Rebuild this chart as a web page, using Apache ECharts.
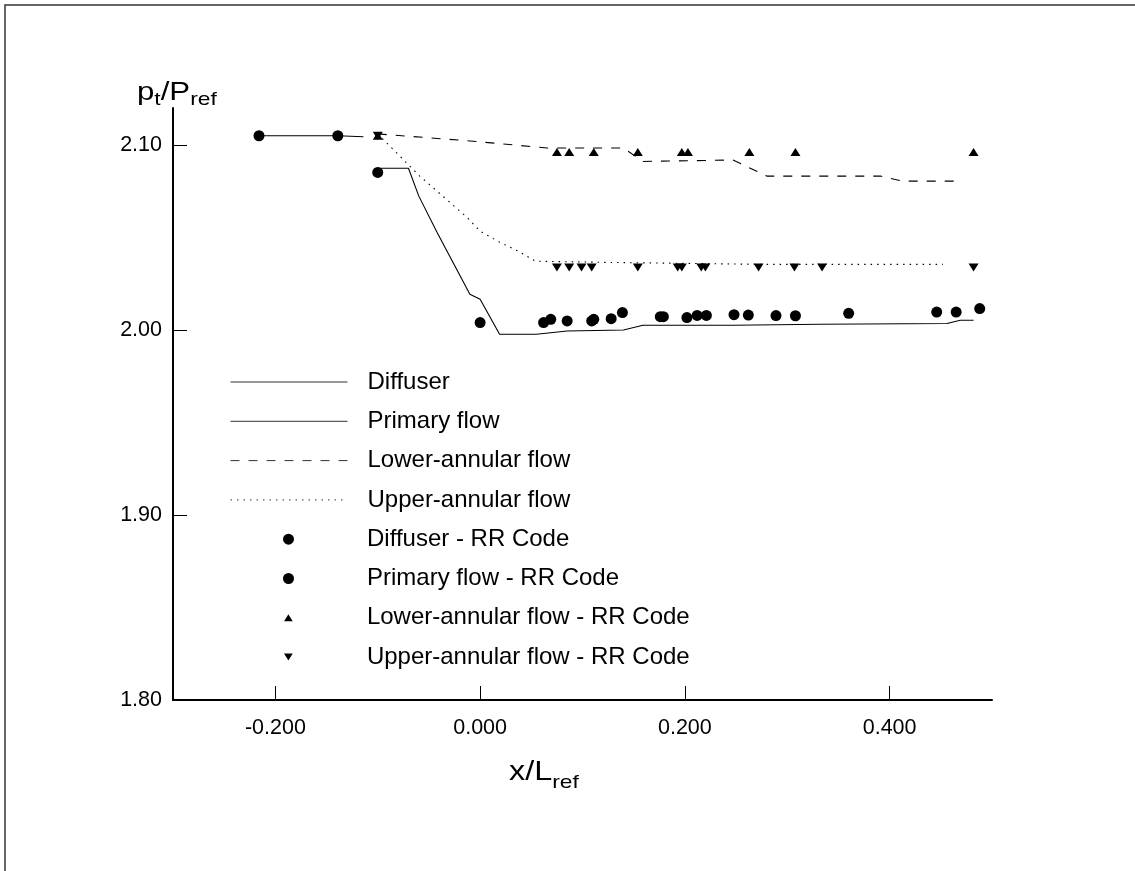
<!DOCTYPE html>
<html>
<head>
<meta charset="utf-8">
<script src="https://cdn.jsdelivr.net/npm/echarts@6/dist/echarts.min.js"></script>
<style>
  html, body { margin: 0; padding: 0; background: #ffffff; }
  #chart { width: 1135px; height: 871px; }
</style>
</head>
<body>
<div id="chart"></div>
<script>
// Total pressure ratio along the combustor diffuser, x/Lref vs pt/Pref

const xTickValues = [-0.2, 0.0, 0.2, 0.4];
const yTickValues = [1.8, 1.9, 2.0, 2.1];

// Line results [x/Lref, pt/Pref]
const diffuserLine = [[-0.216, 2.105], [-0.139, 2.105], [-0.114, 2.1045]];
const primaryLine = [
  [-0.100, 2.0874], [-0.070, 2.0874], [-0.060, 2.0725], [-0.042, 2.0527],
  [-0.010, 2.0193], [0.000, 2.0166], [0.019, 1.9977], [0.055, 1.9977],
  [0.085, 1.9995], [0.140, 2.0000], [0.159, 2.0026], [0.247, 2.0026],
  [0.332, 2.0031], [0.456, 2.0035], [0.469, 2.0053], [0.482, 2.0053]
];
const lowerAnnularLine = [
  [-0.100, 2.106], [-0.010, 2.1022], [0.065, 2.0984], [0.140, 2.0984],
  [0.159, 2.0911], [0.247, 2.0919], [0.280, 2.0832], [0.391, 2.0832],
  [0.412, 2.0805], [0.466, 2.0805]
];
const upperAnnularLine = [
  [-0.100, 2.106], [-0.095, 2.1032], [-0.059, 2.0832], [-0.013, 2.0610],
  [0.000, 2.0534], [0.019, 2.0475], [0.039, 2.0421], [0.054, 2.0372],
  [0.117, 2.0366], [0.273, 2.0355], [0.452, 2.0355]
];

// RR Code points [x/Lref, pt/Pref]
const diffuserRR = [[-0.216, 2.105], [-0.139, 2.105]];
const primaryRR = [
  [-0.100, 2.0852], [0.000, 2.0040], [0.062, 2.0040], [0.069, 2.0058],
  [0.085, 2.0049], [0.109, 2.0049], [0.111, 2.0058], [0.128, 2.0061],
  [0.139, 2.0094], [0.176, 2.0072], [0.179, 2.0072], [0.202, 2.0067],
  [0.212, 2.0079], [0.221, 2.0079], [0.248, 2.0083], [0.262, 2.0081],
  [0.289, 2.0078], [0.308, 2.0077], [0.360, 2.0090], [0.446, 2.0097],
  [0.465, 2.0097], [0.488, 2.0116]
];
const lowerAnnularRR = [
  [-0.100, 2.105], [0.075, 2.0962], [0.087, 2.0962], [0.111, 2.0962],
  [0.154, 2.0962], [0.197, 2.0962], [0.203, 2.0962], [0.263, 2.0962],
  [0.308, 2.0962], [0.482, 2.0962]
];
const upperAnnularRR = [
  [-0.100, 2.105], [0.075, 2.0338], [0.087, 2.0338], [0.099, 2.0338],
  [0.109, 2.0338], [0.154, 2.0338], [0.193, 2.0338], [0.197, 2.0338],
  [0.216, 2.0338], [0.220, 2.0338], [0.272, 2.0338], [0.307, 2.0338],
  [0.334, 2.0338], [0.482, 2.0338]
];

const seriesNames = [
  'Diffuser', 'Primary flow', 'Lower-annular flow', 'Upper-annular flow',
  'Diffuser - RR Code', 'Primary flow - RR Code',
  'Lower-annular flow - RR Code', 'Upper-annular flow - RR Code'
];

const FONT = "'Liberation Sans', Arial, Helvetica, sans-serif";
const INK = '#000000';
const triUp = 'path://M5,0L10,8L0,8Z';
const triDown = 'path://M0,0L10,0L5,8Z';

const chart = echarts.init(document.getElementById('chart'), null, { renderer: 'canvas' });

function lineSeries(name, data, type) {
  return {
    name: name, type: 'line', data: data, symbol: 'none', silent: true,
    lineStyle: { color: INK, width: 1.1, type: type },
    itemStyle: { color: INK }, z: 2
  };
}
function pointSeries(name, data, symbol, size) {
  return {
    name: name, type: 'scatter', data: data, symbol: symbol, symbolSize: size,
    itemStyle: { color: INK, opacity: 1 }, silent: true, z: 3
  };
}

// One legend block per row: line rows show a long sample, marker rows a centred symbol
const rowStep = 39.3;
const legends = seriesNames.map(function (name, i) {
  const isLine = i < 4;
  const isCircle = i === 4 || i === 5;
  const iconW = isLine ? 117 : (isCircle ? 11 : 9);
  const iconH = isLine ? 14 : (isCircle ? 11 : 7);
  const left = isLine ? 230 : 288.5 - iconW / 2;
  const textPad = 367 - (left + iconW + 5);
  const lg = {
    data: [name],
    orient: 'vertical',
    left: left,
    top: 370 + i * rowStep,
    padding: 0,
    itemWidth: iconW,
    itemHeight: iconH,
    selectedMode: false,
    textStyle: { color: INK, fontSize: 24, fontFamily: FONT, lineHeight: 24, padding: [0, 0, 0, textPad] }
  };
  if (isLine) {
    lg.itemStyle = { opacity: 0 };
    lg.lineStyle = { color: '#333333', width: 1 };
  }
  return lg;
});

// Axis titles are set piece by piece so subscripts sit below the baseline.
// Each piece: [text, x, baseline, fontSize]
const STRETCH = 1.2;
function titlePieces(x0, base, subDrop, mainSize, subSize, parts) {
  const out = [];
  let x = x0;
  parts.forEach(function (p) {
    const size = p.sub ? subSize : mainSize;
    const baseline = p.sub ? base + subDrop : base;
    out.push({
      type: 'text', silent: true, x: x, y: baseline + 0.21 * size, scaleX: STRETCH, scaleY: 1,
      style: {
        text: p.t, x: 0, y: 0, align: 'left', verticalAlign: 'bottom',
        fontSize: size, lineHeight: size, fontFamily: FONT, fill: INK
      }
    });
    x += STRETCH * size * p.w;
  });
  return out;
}

const yTitleParts = [
  { t: 'p', w: 0.556 }, { t: 't', w: 0.278, sub: true },
  { t: '/P', w: 0.945 }, { t: 'ref', w: 1.167, sub: true }
];
const xTitleParts = [
  { t: 'x/L', w: 1.334 }, { t: 'ref', w: 1.167, sub: true }
];

const option = {
  animation: false,
  backgroundColor: '#ffffff',
  grid: { left: 173, top: 108, right: 143, bottom: 171, containLabel: false },
  xAxis: {
    type: 'value', min: -0.3, max: 0.5,
    axisLine: { show: true, onZero: false, lineStyle: { color: INK, width: 2 } },
    axisTick: { show: true, inside: true, length: 14, lineStyle: { color: INK, width: 1 }, customValues: xTickValues },
    axisLabel: {
      show: true, customValues: xTickValues, margin: 17, color: INK, fontSize: 21.5, fontFamily: FONT,
      formatter: function (v) { return v.toFixed(3); }
    },
    splitLine: { show: false }
  },
  yAxis: {
    type: 'value', min: 1.8, max: 2.12,
    axisLine: { show: true, onZero: false, lineStyle: { color: INK, width: 2 } },
    axisTick: { show: true, inside: true, length: 14, lineStyle: { color: INK, width: 1 }, customValues: yTickValues },
    axisLabel: {
      show: true, customValues: yTickValues, margin: 11, color: INK, fontSize: 21.5, fontFamily: FONT,
      formatter: function (v) { return v.toFixed(2); }
    },
    splitLine: { show: false }
  },
  legend: legends,
  graphic: [
    {
      type: 'polyline', silent: true,
      shape: { points: [[5, 1000], [5, 5], [1300, 5]] },
      style: { stroke: '#333333', lineWidth: 1.5, fill: null }
    }
  ].concat(
    titlePieces(137, 100, 5, 26, 19, yTitleParts),
    titlePieces(509, 780, 8, 27, 19, xTitleParts)
  ),
  series: [
    lineSeries(seriesNames[0], diffuserLine, 'solid'),
    lineSeries(seriesNames[1], primaryLine, 'solid'),
    lineSeries(seriesNames[2], lowerAnnularLine, [9, 9]),
    lineSeries(seriesNames[3], upperAnnularLine, [1.5, 5]),
    pointSeries(seriesNames[4], diffuserRR, 'circle', 11),
    pointSeries(seriesNames[5], primaryRR, 'circle', 11),
    pointSeries(seriesNames[6], lowerAnnularRR, triUp, [10, 8]),
    pointSeries(seriesNames[7], upperAnnularRR, triDown, [10, 8])
  ]
};

chart.setOption(option);
</script>
</body>
</html>
